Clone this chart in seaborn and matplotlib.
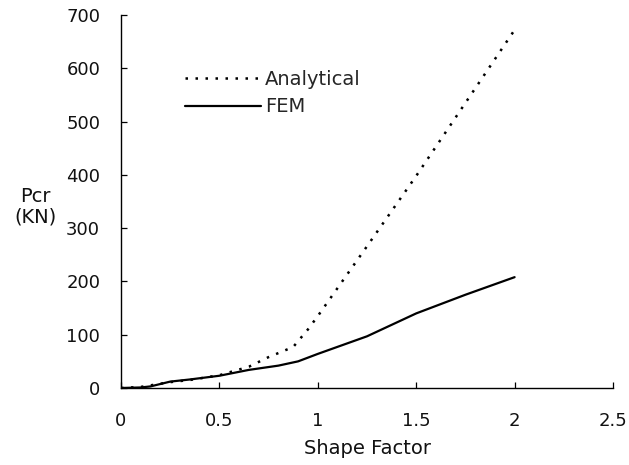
import matplotlib
matplotlib.use("Agg")
import matplotlib.pyplot as plt
import seaborn as sns
import pandas as pd

shape_factor_fem = [0, 0.1, 0.15, 0.25, 0.35, 0.5, 0.65, 0.8, 0.9, 1.0, 1.25, 1.5, 1.75, 2.0]
pcr_fem = [0, 1, 3, 12, 16, 23, 34, 42, 50, 64, 97, 140, 175, 208]

shape_factor_ana = [0, 0.1, 0.25, 0.35, 0.5, 0.65, 0.75, 0.875, 0.95, 1.0, 1.25, 1.5, 1.75, 2.0]
pcr_ana = [0, 2, 11, 15, 24, 40, 58, 77, 110, 135, 266, 398, 535, 672]

x_ticks = [0, 0.5, 1, 1.5, 2, 2.5]
x_tick_labels = ["0", "0.5", "1", "1.5", "2", "2.5"]
y_ticks = [0, 100, 200, 300, 400, 500, 600, 700]

sns.set_style("ticks")
plt.rcParams['font.family'] = ['DejaVu Sans']

fig = plt.figure(figsize=(6.29, 4.65), dpi=100)
ax = fig.add_axes([121/629, 1 - 388/465, (613-121)/629, (388-15)/465])

df_ana = pd.DataFrame({"x": shape_factor_ana, "y": pcr_ana})
df_fem = pd.DataFrame({"x": shape_factor_fem, "y": pcr_fem})

sns.lineplot(data=df_ana, x="x", y="y", ax=ax, color="black", lw=1.8,
             linestyle=(0, (1, 3)), label="Analytical")
sns.lineplot(data=df_fem, x="x", y="y", ax=ax, color="black", lw=1.6,
             label="FEM")

ax.set_xlim(0, 2.5)
ax.set_ylim(0, 700)
ax.set_xticks(x_ticks)
ax.set_xticklabels(x_tick_labels)
ax.set_yticks(y_ticks)
ax.tick_params(direction="in", length=4, width=0.9, colors="black",
               labelsize=13, labelcolor="#111111")
ax.tick_params(axis="x", pad=17)
ax.tick_params(axis="y", pad=15)
for s in ["top", "right"]:
    ax.spines[s].set_visible(False)
for s in ["left", "bottom"]:
    ax.spines[s].set_linewidth(1.0)
    ax.spines[s].set_color("black")

ax.set_xlabel("Shape Factor", fontsize=14, labelpad=7, color="#111111")
ax.set_ylabel("")
fig.text(35/629, 1 - 207/465, "Pcr\n(KN)", fontsize=14, ha="center", va="center",
         color="#111111", linespacing=1.1)

leg = ax.legend(loc="upper left", bbox_to_anchor=(0.13, 0.852), frameon=False,
                fontsize=14, handlelength=3.9, handletextpad=0.2,
                labelspacing=0.42, borderpad=0, borderaxespad=0)

fig.savefig("out.png", dpi=100)
